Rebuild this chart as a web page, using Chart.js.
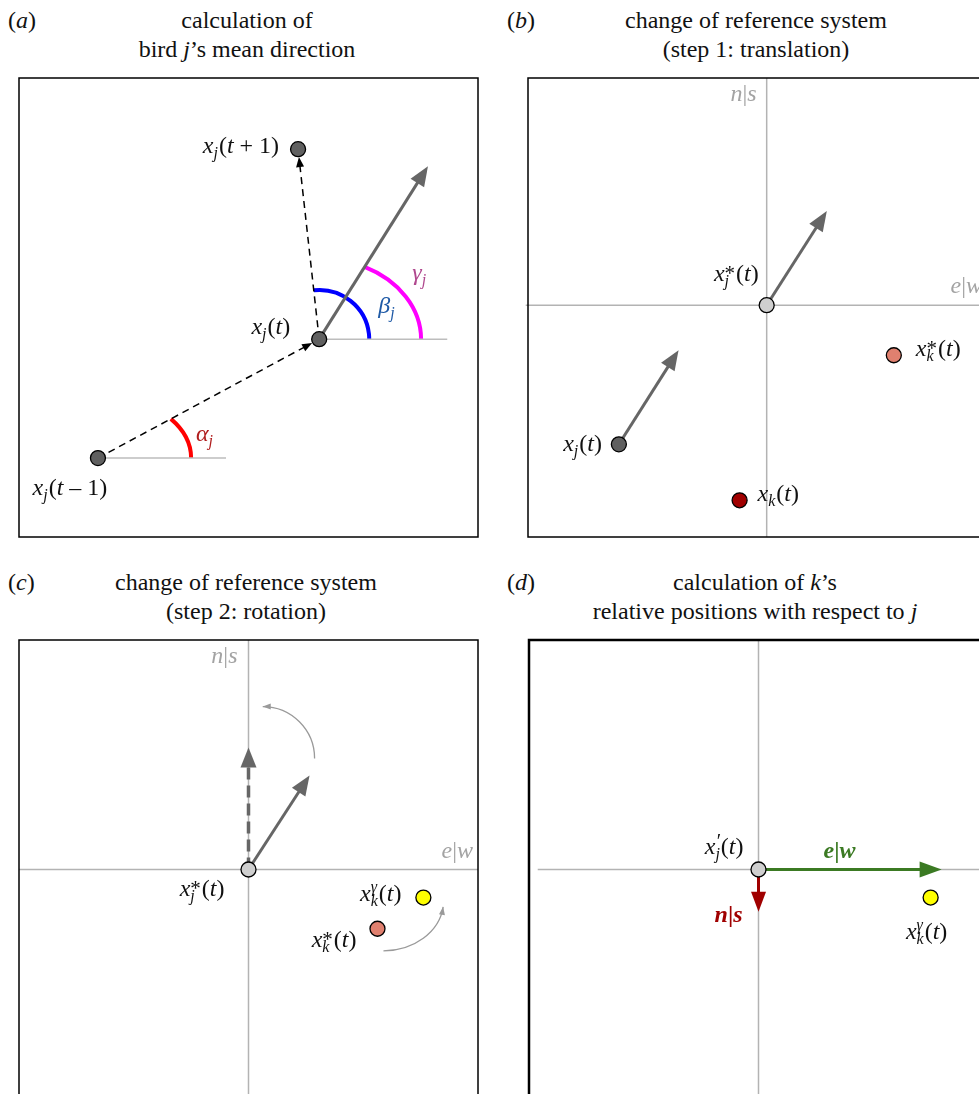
<!DOCTYPE html>
<html>
<head>
<meta charset="utf-8">
<script src="https://cdn.jsdelivr.net/npm/chart.js@4.4.1/dist/chart.umd.min.js"></script>
<style>
    body { margin: 0; width: 979px; height: 1094px; overflow: hidden; position: relative; background: #fff;
           font-family: 'Liberation Serif', 'Times New Roman', serif; color: #111; }
    .title { position: absolute; width: 460px; text-align: center; font-size: 24px; line-height: 29px; }
    .tag { position: absolute; font-size: 24px; line-height: 29px; }
    canvas { position: absolute; }
</style>
</head>
<body>
<div class="tag" style="left:8px;top:6px">(<i>a</i>)</div>
<div class="title" style="left:17px;top:6px">calculation of<br>bird <i>j</i>’s mean direction</div>
<div class="tag" style="left:507px;top:6px">(<i>b</i>)</div>
<div class="title" style="left:526px;top:6px">change of reference system<br>(step 1: translation)</div>
<div class="tag" style="left:8px;top:568px">(<i>c</i>)</div>
<div class="title" style="left:16px;top:568px">change of reference system<br>(step 2: rotation)</div>
<div class="tag" style="left:507px;top:568px">(<i>d</i>)</div>
<div class="title" style="left:525px;top:568px">calculation of <i>k</i>’s<br>relative positions with respect to <i>j</i></div>

<canvas id="panel-a" width="483" height="483" style="left:7px;top:66px"></canvas>
<canvas id="panel-b" width="483" height="483" style="left:516px;top:66px"></canvas>
<canvas id="panel-c" width="483" height="506" style="left:7px;top:628px"></canvas>
<canvas id="panel-d" width="483" height="506" style="left:517px;top:628px"></canvas>

<script>
// === data (units of each panel's own x/y scale) ===
// (a) bird j at three time steps
const aPrev = [1.72, 1.72];     // x_j(t-1)
const aNow = [6.54, 4.31];      // x_j(t)
const aNext = [6.08, 8.45];     // x_j(t+1)
const aMean = [8.91, 8.08];     // tip of the mean direction
const aRefLen = [2.79, 2.79];   // horizontal reference lines from t-1 and t
const aArcR = [[2.03, 1.37], [1.09, 1.07], [2.22, 1.76]]; // alpha, beta, gamma radii (x, y)

// (b) translation: j moved to the origin
const bHeadingTip = [1.31, 2.05];
const bJ = [-3.22, -3.03];
const bJTip = [-1.92, -0.98];
const bKStar = [2.77, -1.09];
const bK = [-0.59, -4.25];
const bAxisX = [-5.25, 4.8];

// (c) rotation
const cHeadingTip = [1.33, 2.05];
const cRotatedTip = [0, 2.66];
const cKGamma = [3.81, -0.61];
const cKStar = [2.81, -1.29];
const cTurns = [[0.31, 2.42, 1.13, 1.13, 0, 90], [2.94, -0.68, 1.31, 1.09, -90, -7]]; // cx, cy, rx, ry, from, to (deg)

// (d) j's own frame
const dEastTip = [3.99, 0];
const dSouthTip = [0, -0.92];
const dKGamma = [3.75, -0.61];
const dAxisX = [-4.81, 5];

// scale ranges of the four boxes
const aRange = [[0, 10], [0, 10]];
const bRange = [[-5.2, 4.8], [-5.05, 4.95]];
const cRange = [[-5, 5], [-5.5, 5]];
const dRange = [[-5, 5], [-5.5, 5]];

// === look ===
const UNIT = 45.9;   // pixels per unit, same in every panel
const PAD = 12;
const FONT = "'Liberation Serif', 'Times New Roman', serif";
const SIZE = 24, SCRIPT = 16;
const GRAY_DOT = '#606060', LIGHT_DOT = '#cfcfcf', K_STAR = '#e0806f', K_RAW = '#a00000', K_ROT = '#ffff00';
const ARROW_GRAY = '#666666', AXIS = '#b3b3b3', LABEL_GRAY = '#a3a3a3';

// rich text pieces
const it = t => ({ t, style: 'italic' });
const up = t => ({ t, style: 'normal' });
const bi = t => ({ t, style: 'italic bold' });
const sc = (sub, sup) => ({ script: true, sub, sup });
const xLab = (sub, sup, arg) => [it('x'), sc(sub ? it(sub) : null, sup), up('('), ...arg, up(')')];
const T = [it('t')];
const STAR = { t: '*', style: 'normal', dy: -1, size: 21 };
const GAM = { t: 'γ', style: 'italic', dy: -9 };
const PRIME = { t: '′', style: 'italic', dy: -6, size: 20 };

function pt(p) { return { x: p[0], y: p[1] }; }

function lineSet(points, color, width, order, dash) {
    return {
        data: points.map(pt), showLine: true, borderColor: color, borderWidth: width,
        borderDash: dash || [], borderCapStyle: 'butt', pointRadius: 0, clip: false, order: order
    };
}

function dotSet(points, fills) {
    return {
        data: points.map(pt), showLine: false, pointRadius: 7.5, pointHoverRadius: 7.5,
        pointBackgroundColor: fills, pointBorderColor: '#000', pointBorderWidth: 1.3, clip: false, order: 0
    };
}

// shaft as a dataset, head drawn by the plugin
function arrow(from, to, s) {
    const dx = to[0] - from[0], dy = to[1] - from[1], L = Math.hypot(dx, dy);
    const ux = dx / L, uy = dy / L;
    const gap = (s.gap || 0) / UNIT, back = s.len * 0.75 / UNIT;
    const tip = [to[0] - ux * gap, to[1] - uy * gap];
    const end = [tip[0] - ux * back, tip[1] - uy * back];
    return { set: lineSet([from, end], s.color, s.width, 1, s.dash), head: { from, tip, color: s.color, len: s.len, half: s.half } };
}

function px(chart, p) {
    return [chart.scales.x.getPixelForValue(p[0]), chart.scales.y.getPixelForValue(p[1])];
}

function fontFor(style, size) { return `${style} ${size}px ${FONT}`; }

function measure(ctx, p) {
    if (p.script) {
        let w = 0;
        [p.sub, p.sup].forEach(s => {
            if (!s) return;
            ctx.font = fontFor(s.style, s.size || SCRIPT);
            w = Math.max(w, ctx.measureText(s.t).width);
        });
        return w + 1;
    }
    ctx.font = fontFor(p.style, SIZE);
    return ctx.measureText(p.t).width;
}

function drawRich(ctx, parts, x, y, align, color) {
    const widths = parts.map(p => measure(ctx, p));
    const total = widths.reduce((a, b) => a + b, 0);
    let cx = align === 'right' ? x - total : align === 'center' ? x - total / 2 : x;
    ctx.fillStyle = color;
    ctx.textAlign = 'left';
    ctx.textBaseline = 'alphabetic';
    parts.forEach((p, i) => {
        if (p.script) {
            if (p.sub) { ctx.font = fontFor(p.sub.style, SCRIPT); ctx.fillText(p.sub.t, cx, y + 5); }
            if (p.sup) { ctx.font = fontFor(p.sup.style, p.sup.size || SCRIPT); ctx.fillText(p.sup.t, cx, y + (p.sup.dy || -9)); }
        } else {
            ctx.font = fontFor(p.style, SIZE);
            ctx.fillText(p.t, cx, y);
        }
        cx += widths[i];
    });
}

function drawHead(ctx, tip, ang, len, half, color) {
    const c = Math.cos(ang), s = Math.sin(ang);
    const bx = tip[0] - len * c, by = tip[1] - len * s;
    ctx.beginPath();
    ctx.moveTo(tip[0], tip[1]);
    ctx.lineTo(bx - half * s, by + half * c);
    ctx.lineTo(bx + half * s, by - half * c);
    ctx.closePath();
    ctx.fillStyle = color;
    ctx.fill();
}

function extras(cfg) {
    return {
        id: 'extras',
        beforeDatasetsDraw(chart) {
            const ctx = chart.ctx;
            (cfg.arcs || []).forEach(a => {
                const c = px(chart, a.centre), t = px(chart, a.toward);
                const rx = px(chart, [a.centre[0] + a.r[0], a.centre[1]])[0] - c[0];
                const ry = c[1] - px(chart, [a.centre[0], a.centre[1] + a.r[1]])[1];
                const th = Math.atan2(-(t[1] - c[1]), t[0] - c[0]);
                const tp = Math.atan2(rx * Math.sin(th), ry * Math.cos(th));
                ctx.save();
                ctx.beginPath();
                ctx.ellipse(c[0], c[1], rx, ry, 0, -tp, 0, false);
                ctx.strokeStyle = a.color;
                ctx.lineWidth = 4;
                ctx.stroke();
                ctx.restore();
            });
        },
        afterDatasetsDraw(chart) {
            const ctx = chart.ctx;
            ctx.save();
            (cfg.heads || []).forEach(h => {
                const p = px(chart, h.tip), q = px(chart, h.from);
                drawHead(ctx, p, Math.atan2(p[1] - q[1], p[0] - q[0]), h.len, h.half, h.color);
            });
            (cfg.turns || []).forEach(tr => {
                const c = px(chart, [tr[0], tr[1]]);
                const rx = px(chart, [tr[0] + tr[2], tr[1]])[0] - c[0];
                const ry = c[1] - px(chart, [tr[0], tr[1] + tr[3]])[1];
                const a0 = tr[4] * Math.PI / 180, a1 = tr[5] * Math.PI / 180;
                ctx.beginPath();
                ctx.ellipse(c[0], c[1], rx, ry, 0, -a0, -a1, true);
                ctx.strokeStyle = '#9a9a9a';
                ctx.lineWidth = 1.3;
                ctx.stroke();
                const e = [c[0] + rx * Math.cos(a1), c[1] - ry * Math.sin(a1)];
                const ang = Math.atan2(-ry * Math.cos(a1), -rx * Math.sin(a1));
                drawHead(ctx, e, ang, 8, 3, '#9a9a9a');
            });
            (cfg.labels || []).forEach(l => {
                const p = px(chart, l.at);
                drawRich(ctx, l.parts, p[0] + l.dx, p[1] + l.dy, l.align, l.color || '#111');
            });
            ctx.restore();
        },
        afterDraw(chart) {
            const a = chart.chartArea, ctx = chart.ctx;
            ctx.save();
            ctx.strokeStyle = '#000';
            ctx.lineWidth = cfg.border || 1.5;
            ctx.strokeRect(a.left, a.top, a.right - a.left, a.bottom - a.top);
            ctx.restore();
        }
    };
}

function panel(id, range, built, cfg) {
    cfg.heads = built.filter(b => b.head).map(b => b.head);
    return new Chart(document.getElementById(id), {
        type: 'scatter',
        data: { datasets: built.map(b => b.set || b) },
        options: {
            responsive: false,
            animation: false,
            events: [],
            layout: { padding: PAD },
            plugins: { legend: { display: false }, tooltip: { enabled: false } },
            scales: {
                x: { type: 'linear', display: false, min: range[0][0], max: range[0][1] },
                y: { type: 'linear', display: false, min: range[1][0], max: range[1][1] }
            }
        },
        plugins: [extras(cfg)]
    });
}

const grayArrow = { color: ARROW_GRAY, width: 3, len: 20, half: 8 };
const blackDash = { color: '#000', width: 1.5, dash: [7, 5], len: 10, half: 4, gap: 8 };

// === (a) ===
panel('panel-a', aRange, [
    lineSet([aPrev, [aPrev[0] + aRefLen[0], aPrev[1]]], '#bdbdbd', 1.5, 3),
    lineSet([aNow, [aNow[0] + aRefLen[1], aNow[1]]], '#bdbdbd', 1.5, 3),
    arrow(aNow, aMean, grayArrow),
    arrow(aPrev, aNow, blackDash),
    arrow(aNow, aNext, blackDash),
    dotSet([aPrev, aNow, aNext], GRAY_DOT)
], {
    arcs: [
        { centre: aPrev, toward: aNow, r: aArcR[0], color: '#ff0000' },
        { centre: aNow, toward: aNext, r: aArcR[1], color: '#0000ff' },
        { centre: aNow, toward: aMean, r: aArcR[2], color: '#ff00ff' }
    ],
    labels: [
        { at: aNext, dx: -19, dy: 4, align: 'right', parts: xLab('j', null, [it('t'), up(' + 1')]) },
        { at: aNow, dx: -29, dy: -5, align: 'right', parts: xLab('j', null, T) },
        { at: aPrev, dx: -28, dy: 37, align: 'center', parts: xLab('j', null, [it('t'), up(' – 1')]) },
        { at: aPrev, dx: 98, dy: -17, align: 'left', parts: [it('α'), sc(it('j'))], color: '#b01e1e' },
        { at: aNow, dx: 59, dy: -26, align: 'left', parts: [it('β'), sc(it('j'))], color: '#1f5aa6' },
        { at: aNow, dx: 93, dy: -59, align: 'left', parts: [it('γ'), sc(it('j'))], color: '#b0488e' }
    ]
});

// === (b) ===
panel('panel-b', bRange, [
    lineSet([[bAxisX[0], 0], [bAxisX[1], 0]], AXIS, 1.5, 3),
    lineSet([[0, bRange[1][0]], [0, bRange[1][1]]], AXIS, 1.5, 3),
    arrow([0, 0], bHeadingTip, grayArrow),
    arrow(bJ, bJTip, grayArrow),
    dotSet([[0, 0], bJ, bKStar, bK], [LIGHT_DOT, GRAY_DOT, K_STAR, K_RAW])
], {
    labels: [
        { at: [0, bRange[1][1]], dx: -10, dy: 23, align: 'right', parts: [it('n'), up('|'), it('s')], color: LABEL_GRAY },
        { at: [bRange[0][1], 0], dx: -5, dy: -12, align: 'right', parts: [it('e'), up('|'), it('w')], color: LABEL_GRAY },
        { at: [0, 0], dx: -8, dy: -24, align: 'right', parts: xLab('j', STAR, T) },
        { at: bKStar, dx: 22, dy: 1, align: 'left', parts: xLab('k', STAR, T) },
        { at: bJ, dx: -17, dy: 7, align: 'right', parts: xLab('j', null, T) },
        { at: bK, dx: 18, dy: 1, align: 'left', parts: xLab('k', null, T) }
    ]
});

// === (c) ===
panel('panel-c', cRange, [
    lineSet([[cRange[0][0], 0], [cRange[0][1], 0]], AXIS, 1.5, 3),
    lineSet([[0, cRange[1][0]], [0, cRange[1][1]]], AXIS, 1.5, 3),
    arrow([0, 0], cRotatedTip, { color: ARROW_GRAY, width: 3.5, dash: [12, 6], len: 20, half: 8 }),
    arrow([0, 0], cHeadingTip, grayArrow),
    dotSet([[0, 0], cKGamma, cKStar], [LIGHT_DOT, K_ROT, K_STAR])
], {
    turns: cTurns,
    labels: [
        { at: [0, cRange[1][1]], dx: -11, dy: 23, align: 'right', parts: [it('n'), up('|'), it('s')], color: LABEL_GRAY },
        { at: [cRange[0][1], 0], dx: -5, dy: -12, align: 'right', parts: [it('e'), up('|'), it('w')], color: LABEL_GRAY },
        { at: [0, 0], dx: -24, dy: 26, align: 'right', parts: xLab('j', STAR, T) },
        { at: cKGamma, dx: -22, dy: 3, align: 'right', parts: xLab('k', GAM, T) },
        { at: cKStar, dx: -21, dy: 18, align: 'right', parts: xLab('k', STAR, T) }
    ]
});

// === (d) ===
panel('panel-d', dRange, [
    lineSet([[dAxisX[0], 0], [dAxisX[1], 0]], AXIS, 1.5, 3),
    lineSet([[0, dRange[1][0]], [0, dRange[1][1]]], AXIS, 1.5, 3),
    arrow([0, 0], dEastTip, { color: '#3b7a23', width: 3, len: 22, half: 8 }),
    arrow([0, 0], dSouthTip, { color: '#a00000', width: 3, len: 20, half: 7.5 }),
    dotSet([[0, 0], dKGamma], [LIGHT_DOT, K_ROT])
], {
    border: 2.5,
    labels: [
        { at: [0, 0], dx: -15, dy: -16, align: 'right', parts: xLab('j', PRIME, T) },
        { at: [0, 0], dx: 81, dy: -12, align: 'center', parts: [bi('e'), { t: '|', style: 'bold' }, bi('w')], color: '#3b7a23' },
        { at: [0, 0], dx: -16, dy: 52, align: 'right', parts: [bi('n'), { t: '|', style: 'bold' }, bi('s')], color: '#a00000' },
        { at: dKGamma, dx: -4, dy: 41, align: 'center', parts: xLab('k', GAM, T) }
    ]
});
</script>
</body>
</html>
